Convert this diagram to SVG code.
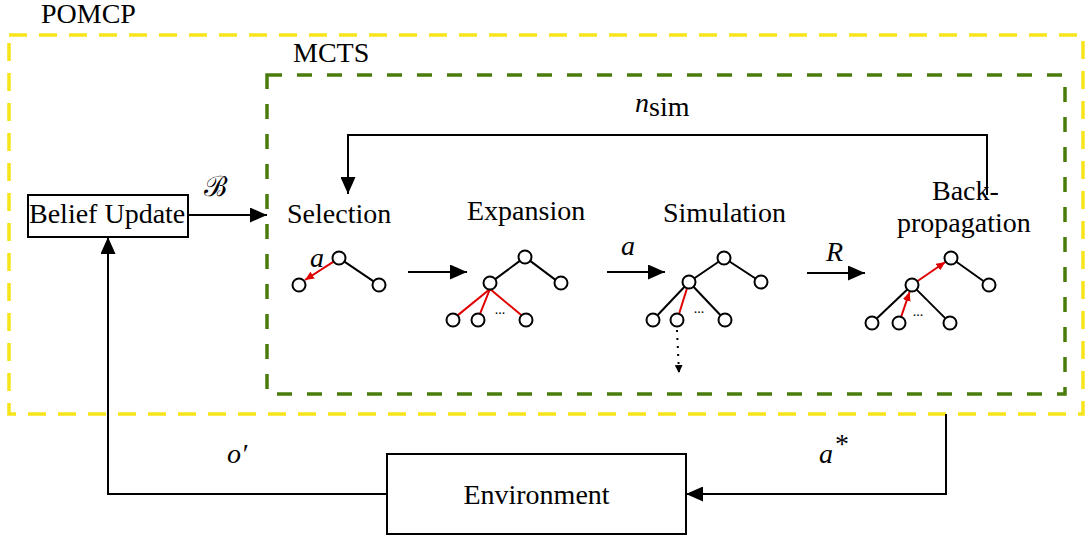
<svg xmlns="http://www.w3.org/2000/svg" width="1088" height="538" viewBox="0 0 1088 538">
<style>
.t{font-family:"Liberation Serif","Times New Roman",serif;font-size:28px;fill:#000}
.i{font-style:italic}
.d{font-family:"Liberation Serif","Times New Roman",serif;font-size:14px;fill:#000;text-anchor:middle}
.box{fill:#fff;stroke:#000;stroke-width:2}
.c{fill:#fff;stroke:#000;stroke-width:2}
.e{stroke:#000;stroke-width:2;fill:none}
.r{stroke:#e00000;stroke-width:2;fill:none}
.con{stroke:#000;stroke-width:2;fill:none}
</style>
<defs>
<marker id="ah" markerUnits="userSpaceOnUse" markerWidth="17" markerHeight="15" refX="17" refY="7.5" orient="auto"><path d="M0,0 L17,7.5 L0,15 z" fill="#000"/></marker>
<marker id="ahr" markerUnits="userSpaceOnUse" markerWidth="9" markerHeight="8" refX="9" refY="4" orient="auto"><path d="M0,0 L9,4 L0,8 z" fill="#e00000"/></marker>
<marker id="ahs" markerUnits="userSpaceOnUse" markerWidth="8" markerHeight="8" refX="8" refY="4" orient="auto"><path d="M0,0 L8,4 L0,8 z" fill="#000"/></marker>
</defs>
<rect width="1088" height="538" fill="#fff"/>

<g id="pomcp">
<rect x="9" y="35" width="1074" height="379" fill="none" stroke="#f7e41a" stroke-width="3.5" stroke-dasharray="18 12"/>
<text class="t" x="41" y="23" font-size="25">POMCP</text>
</g>
<g id="mcts">
<rect x="267" y="75" width="798" height="319" fill="none" stroke="#4a7c0c" stroke-width="3.5" stroke-dasharray="15 15"/>
<text class="t" x="293" y="62" font-size="25">MCTS</text>
</g>

<g id="belief-update">
<rect class="box" x="28" y="195" width="160" height="42"/>
<text class="t" x="29" y="223">Belief Update</text>
</g>
<g id="environment">
<rect class="box" x="387" y="454" width="299" height="80"/>
<text class="t" x="536.5" y="504" text-anchor="middle">Environment</text>
</g>

<g id="selection">
<text class="t" x="287" y="223">Selection</text>
<line class="e" x1="344.4" y1="261.6" x2="373.6" y2="281.4"/>
<line class="r" x1="333.6" y1="261.6" x2="305" y2="280" marker-end="url(#ahr)"/>
<circle class="c" cx="339" cy="258" r="6.5"/>
<circle class="c" cx="299" cy="285" r="6.5"/>
<circle class="c" cx="379" cy="285" r="6.5"/>
<text class="t i" x="310" y="267" font-size="16">a</text>
</g>

<g id="expansion">
<text class="t" x="467" y="220">Expansion</text>
<line class="e" x1="519.8" y1="260.9" x2="495.2" y2="279.1"/>
<line class="e" x1="530.2" y1="260.9" x2="555.8" y2="280.1"/>
<line class="r" x1="490" y1="289" x2="457.6" y2="315.4"/>
<line class="r" x1="490" y1="289" x2="480" y2="313.8"/>
<line class="r" x1="490" y1="289" x2="521.5" y2="315.3"/>
<circle class="c" cx="525" cy="257" r="6.5"/>
<circle class="c" cx="490" cy="283" r="6.5"/>
<circle class="c" cx="561" cy="283" r="6.5"/>
<circle class="c" cx="453" cy="320" r="6.5"/>
<circle class="c" cx="478" cy="320" r="6.5"/>
<circle class="c" cx="526" cy="320" r="6.5"/>
<text class="d" x="500" y="314">...</text>
</g>

<g id="simulation">
<text class="t" x="663" y="222">Simulation</text>
<line class="e" x1="718.6" y1="261.7" x2="694.4" y2="278.3"/>
<line class="e" x1="729.5" y1="261.5" x2="755.5" y2="278.5"/>
<line class="e" x1="684.5" y1="286.7" x2="657.5" y2="315.3"/>
<line class="e" x1="693.5" y1="286.7" x2="720.5" y2="315.3"/>
<line class="r" x1="687" y1="288.2" x2="679.3" y2="313"/>
<line x1="677" y1="330" x2="679" y2="373" stroke="#000" stroke-width="2" stroke-dasharray="2 6" marker-end="url(#ahs)"/>
<circle class="c" cx="724" cy="258" r="6.5"/>
<circle class="c" cx="689" cy="282" r="6.5"/>
<circle class="c" cx="761" cy="282" r="6.5"/>
<circle class="c" cx="653" cy="320" r="6.5"/>
<circle class="c" cx="677" cy="320" r="6.5"/>
<circle class="c" cx="725" cy="320" r="6.5"/>
<text class="d" x="699" y="313">...</text>
</g>

<g id="backpropagation">
<text class="t" x="932" y="200">Back-</text>
<text class="t" x="897" y="232">propagation</text>
<line class="e" x1="956.3" y1="261.8" x2="983.7" y2="281.2"/>
<line class="e" x1="907.3" y1="289.5" x2="876.7" y2="318.5"/>
<line class="e" x1="916.6" y1="289.6" x2="945.4" y2="318.4"/>
<line class="r" x1="917.3" y1="281.3" x2="945.3" y2="262" marker-end="url(#ahr)"/>
<line class="r" x1="901.1" y1="316.9" x2="909.6" y2="292" marker-end="url(#ahr)"/>
<circle class="c" cx="951" cy="258" r="6.5"/>
<circle class="c" cx="912" cy="285" r="6.5"/>
<circle class="c" cx="989" cy="285" r="6.5"/>
<circle class="c" cx="872" cy="323" r="6.5"/>
<circle class="c" cx="899" cy="323" r="6.5"/>
<circle class="c" cx="950" cy="323" r="6.5"/>
<text class="d" x="918" y="316">...</text>
</g>

<g id="connectors">
<line class="con" x1="188" y1="215" x2="267" y2="215" marker-end="url(#ah)"/>
<text class="t" x="204" y="196" font-size="24" font-family="'DejaVu Serif','Liberation Serif',serif">ℬ</text>
<path class="con" d="M987,195 V135 H348 V194" marker-end="url(#ah)"/>
<text class="t i" x="635" y="112">n</text>
<text class="t" x="649" y="116" font-size="18">sim</text>
<line class="con" x1="408" y1="272" x2="467" y2="272" marker-end="url(#ah)"/>
<line class="con" x1="607" y1="272" x2="665" y2="272" marker-end="url(#ah)"/>
<text class="t i" x="621" y="255">a</text>
<line class="con" x1="807" y1="273" x2="865" y2="273" marker-end="url(#ah)"/>
<text class="t i" x="826" y="261">R</text>
<path class="con" d="M946,414 V494 H686" marker-end="url(#ah)"/>
<text class="t i" x="819" y="463">a</text>
<text class="t" x="835" y="453" font-size="15">*</text>
<path class="con" d="M387,494 H108 V237" marker-end="url(#ah)"/>
<text class="t i" x="227" y="463">o′</text>
</g>
</svg>
